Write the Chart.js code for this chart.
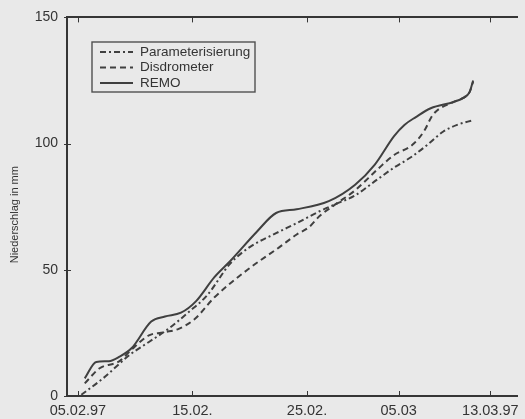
<!DOCTYPE html>
<html>
<head>
<meta charset="utf-8">
<script src="https://cdn.jsdelivr.net/npm/chart.js@4"></script>
<style>
  html, body { margin: 0; padding: 0; background: #e9e9e9; overflow: hidden; }
  #wrap { width: 525px; height: 419px; position: relative; }
</style>
</head>
<body>
<div id="wrap"><canvas id="c" width="525" height="419"></canvas></div>
<script>
// ---- data (x = days after 05.02.97, y = Niederschlag in mm) ----
const seriesNames = ['Parameterisierung', 'Disdrometer', 'REMO'];

const paramDays = [0.3, 2.2, 4.5, 6.2, 7.9, 9.6, 11.3, 13.3, 15.0, 17.3, 19.1, 21.1, 22.5, 24.2, 26.2, 27.6, 29.2, 30.5, 31.9, 33.1, 34.5];
const paramVals = [0.5, 7, 16.2, 21.4, 26.6, 33, 40, 52.5, 59, 64.5, 68.5, 73.2, 76, 79.5, 86, 90.5, 95, 99.5, 104.8, 107.4, 109.3];

const disdroDays = [0.6, 1.9, 3.6, 4.6, 6.2, 7.6, 8.8, 10.2, 11.9, 14.8, 17.6, 19.1, 20.2, 21.1, 22.5, 24.2, 26.2, 27.6, 29.2, 30.2, 31.0, 32.8, 33.6, 34.2, 34.5];
const disdroVals = [5, 11, 13.7, 18, 24, 25.3, 26.6, 30.5, 39, 50, 59, 64, 67, 71.3, 76, 81.5, 90, 95.5, 99.5, 104.8, 111.5, 116.5, 118, 120.5, 124.5];

const remoDays = [0.6, 1.6, 2.7, 3.6, 4.7, 6.4, 7.6, 9.0, 10.3, 11.9, 13.3, 15.6, 17.3, 19.1, 21.9, 24.2, 25.9, 27.6, 28.5, 29.5, 30.8, 32.8, 33.6, 34.2, 34.5];
const remoVals = [7, 13.5, 13.8, 15.5, 19, 29.5, 31.5, 33, 37.5, 47, 53.5, 65, 72.5, 74, 77.2, 83.7, 91.6, 103, 107.4, 110.5, 114, 116.5, 118, 120.5, 125];

const tickDays = [0, 10, 20, 28, 36];
const tickLabels = ['05.02.97', '15.02.', '25.02.', '05.03', '13.03.97'];
const yTicks = [0, 50, 100, 150];
const yTitle = 'Niederschlag in mm';

// ---- styling ----
const ink = '#404040';
const axisInk = '#363636';
const textInk = '#343434';
const fontFam = '"Liberation Sans", Arial, Helvetica, sans-serif';

function pts(xs, ys) { return xs.map((x, i) => ({ x: x, y: ys[i] })); }

const bgPlugin = {
  id: 'bg',
  beforeDraw(chart) {
    const ctx = chart.ctx;
    ctx.save();
    ctx.fillStyle = '#e9e9e9';
    ctx.fillRect(0, 0, chart.width, chart.height);
    ctx.restore();
  }
};

const innerTicks = {
  id: 'innerTicks',
  afterDraw(chart) {
    const ctx = chart.ctx, a = chart.chartArea;
    const xs = chart.scales.x, ys = chart.scales.y;
    ctx.save();
    ctx.strokeStyle = axisInk;
    ctx.lineWidth = 1;
    tickDays.forEach(d => {
      const px = Math.round(xs.getPixelForValue(d)) + 0.5;
      ctx.beginPath();
      ctx.moveTo(px, a.bottom); ctx.lineTo(px, a.bottom - 5);
      ctx.moveTo(px, a.top); ctx.lineTo(px, a.top + 5);
      ctx.stroke();
    });
    yTicks.forEach(v => {
      const py = Math.round(ys.getPixelForValue(v)) + 0.5;
      ctx.beginPath();
      ctx.moveTo(a.left - 3, py); ctx.lineTo(a.left + 4, py);
      ctx.stroke();
    });
    ctx.restore();
  }
};

const sideTitle = {
  id: 'sideTitle',
  afterDraw(chart, args, opts) {
    const ctx = chart.ctx, a = chart.chartArea;
    ctx.save();
    ctx.translate(opts.x, (a.top + a.bottom) / 2 + opts.shift);
    ctx.rotate(-Math.PI / 2);
    ctx.font = opts.fontSize + 'px ' + fontFam;
    ctx.fillStyle = textInk;
    ctx.textAlign = 'center';
    ctx.textBaseline = 'middle';
    ctx.fillText(yTitle, 0, 0);
    ctx.restore();
  }
};

const boxLegend = {
  id: 'boxLegend',
  afterDraw(chart, args, opts) {
    const ctx = chart.ctx;
    ctx.save();
    ctx.fillStyle = '#e9e9e9';
    ctx.fillRect(opts.x, opts.y, opts.w, opts.h);
    ctx.strokeStyle = '#505050';
    ctx.lineWidth = 1.4;
    ctx.strokeRect(opts.x, opts.y, opts.w, opts.h);
    ctx.font = opts.fontSize + 'px ' + fontFam;
    ctx.textBaseline = 'middle';
    ctx.fillStyle = textInk;
    chart.data.datasets.forEach((ds, i) => {
      const yy = opts.y + opts.firstRow + i * opts.rowGap;
      ctx.beginPath();
      ctx.setLineDash(ds.borderDash || []);
      ctx.strokeStyle = ds.borderColor;
      ctx.lineWidth = ds.borderWidth;
      ctx.moveTo(opts.x + 8, yy);
      ctx.lineTo(opts.x + 8 + opts.sample, yy);
      ctx.stroke();
      ctx.setLineDash([]);
      ctx.fillText(ds.label, opts.x + 8 + opts.sample + 7, yy);
    });
    ctx.restore();
  }
};

const common = { pointRadius: 0, borderColor: ink, borderWidth: 2, fill: false, cubicInterpolationMode: 'monotone' };

new Chart(document.getElementById('c'), {
  type: 'line',
  data: {
    datasets: [
      Object.assign({ label: seriesNames[0], data: pts(paramDays, paramVals), borderDash: [6, 3, 2, 3] }, common),
      Object.assign({ label: seriesNames[1], data: pts(disdroDays, disdroVals), borderDash: [6, 4] }, common),
      Object.assign({ label: seriesNames[2], data: pts(remoDays, remoVals), borderDash: [] }, common)
    ]
  },
  options: {
    responsive: false,
    animation: false,
    layout: { padding: 0 },
    plugins: {
      legend: { display: false },
      tooltip: { enabled: false },
      boxLegend: { x: 92, y: 42, w: 163, h: 50, firstRow: 10, rowGap: 15.5, sample: 33, fontSize: 13.5 },
      sideTitle: { x: 15, shift: 8, fontSize: 11 }
    },
    scales: {
      x: {
        type: 'linear',
        position: 'bottom',
        min: -0.95,
        max: 38.35,
        afterFit(s) { s.height = 23; },
        afterBuildTicks(s) { s.ticks = tickDays.map(v => ({ value: v })); },
        grid: { display: true, drawOnChartArea: false, drawTicks: false },
        border: { display: true, color: axisInk, width: 2 },
        ticks: {
          padding: 6,
          maxRotation: 0,
          autoSkip: false,
          color: textInk,
          font: { family: fontFam, size: 14.5 },
          callback: (v, i) => tickLabels[i]
        }
      },
      x2: {
        type: 'linear',
        position: 'top',
        min: -0.95,
        max: 38.35,
        afterFit(s) { s.height = 15; },
        grid: { display: true, drawOnChartArea: false, drawTicks: false },
        border: { display: true, color: axisInk, width: 2 },
        ticks: { display: false }
      },
      y: {
        type: 'linear',
        min: 0,
        max: 150,
        afterFit(s) { s.width = 67; },
        afterBuildTicks(s) { s.ticks = yTicks.map(v => ({ value: v })); },
        grid: { display: true, drawOnChartArea: false, drawTicks: false },
        border: { display: true, color: axisInk, width: 2 },
        ticks: {
          padding: 9,
          color: textInk,
          font: { family: fontFam, size: 14 }
        },
        title: { display: false }
      }
    }
  },
  plugins: [bgPlugin, innerTicks, sideTitle, boxLegend]
});
</script>
</body>
</html>
